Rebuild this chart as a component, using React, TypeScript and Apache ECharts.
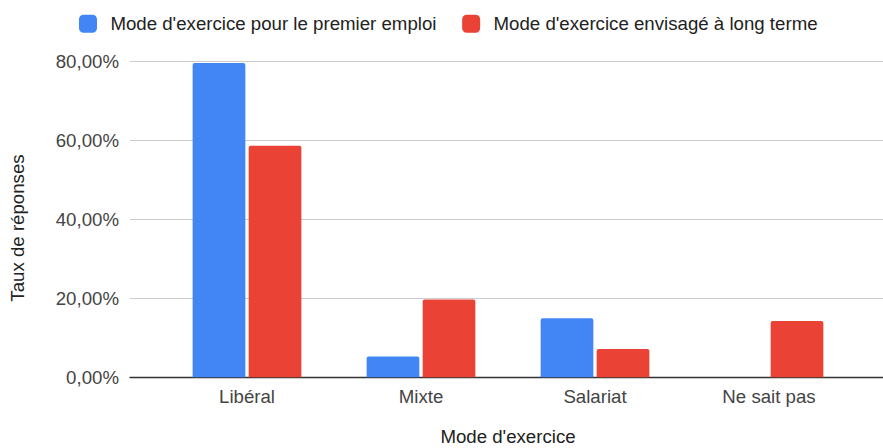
import React, { useEffect, useRef } from "react";
import * as echarts from "echarts";

const categories = ["Libéral", "Mixte", "Salariat", "Ne sait pas"];
const premierEmploi = [79.7, 5.3, 15.0, 0];
const longTerme = [58.7, 19.7, 7.2, 14.3];
const seriesNames = [
  "Mode d'exercice pour le premier emploi",
  "Mode d'exercice envisagé à long terme",
];
const yTicks = { min: 0, max: 80, interval: 20 };

const FONT = "Arial, 'Liberation Sans', sans-serif";
const FS = 18.67;

export default function App() {
  const ref = useRef<HTMLDivElement>(null);
  useEffect(() => {
    document.body.style.margin = "0";
    if (!ref.current) return;
    const chart = echarts.init(ref.current, undefined, { renderer: "svg" });
    const top = 61.7;
    const bottom = 448 - 377.3;
    chart.setOption({
      animation: false,
      textStyle: { fontFamily: FONT },
      legend: {
        left: 79,
        top: 14.3,
        padding: 0,
        itemWidth: 18,
        itemHeight: 18,
        itemGap: 25.7,
        icon: "roundRect",
        textStyle: { fontFamily: FONT, fontSize: FS, color: "#222", padding: [0, 0, 0, 8.4] },
        data: seriesNames,
      },
      grid: [
        { left: 130, right: 0, top, bottom },
        { left: 160, right: 27, top, bottom },
      ],
      xAxis: [
        {
          type: "value",
          gridIndex: 0,
          min: 0,
          max: 1,
          axisLine: { show: true, onZero: false, lineStyle: { color: "#333", width: 1.3 } },
          axisTick: { show: false },
          axisLabel: { show: false },
          splitLine: { show: false },
        },
        {
          type: "category",
          gridIndex: 1,
          data: categories,
          axisLine: { show: false },
          axisTick: { show: false },
          axisLabel: { fontFamily: FONT, fontSize: FS, color: "#444", margin: 10 },
        },
      ],
      yAxis: [
        {
          type: "value",
          gridIndex: 0,
          min: yTicks.min,
          max: yTicks.max,
          interval: yTicks.interval,
          axisLine: { show: false },
          axisTick: { show: false },
          axisLabel: {
            fontFamily: FONT,
            fontSize: FS,
            color: "#444",
            margin: 11,
            formatter: (v: number) => v.toFixed(2).replace(".", ",") + "%",
          },
          splitLine: { lineStyle: { color: "#cccccc", width: 1 } },
        },
        {
          type: "value",
          gridIndex: 1,
          min: yTicks.min,
          max: yTicks.max,
          interval: yTicks.interval,
          show: false,
        },
      ],
      series: [
        {
          name: seriesNames[0],
          type: "bar",
          xAxisIndex: 1,
          yAxisIndex: 1,
          data: premierEmploi,
          barWidth: 52.7,
          barGap: "6.3%",
          itemStyle: { color: "#4285F4", borderRadius: [2, 2, 0, 0] },
        },
        {
          name: seriesNames[1],
          type: "bar",
          xAxisIndex: 1,
          yAxisIndex: 1,
          data: longTerme,
          barWidth: 52.7,
          barGap: "6.3%",
          itemStyle: { color: "#EA4335", borderRadius: [2, 2, 0, 0] },
        },
      ],
      graphic: [
        {
          type: "text",
          x: 17.5,
          y: 228,
          rotation: Math.PI / 2,
          style: {
            text: "Taux de réponses",
            fontFamily: FONT,
            fontSize: FS,
            fill: "#222",
            textAlign: "center",
            textVerticalAlign: "middle",
          },
        },
        {
          type: "text",
          x: 508,
          y: 436,
          style: {
            text: "Mode d'exercice",
            fontFamily: FONT,
            fontSize: FS,
            fill: "#222",
            textAlign: "center",
            textVerticalAlign: "middle",
          },
        },
      ],
    });
    return () => chart.dispose();
  }, []);
  return <div ref={ref} style={{ width: 883, height: 448 }} />;
}
